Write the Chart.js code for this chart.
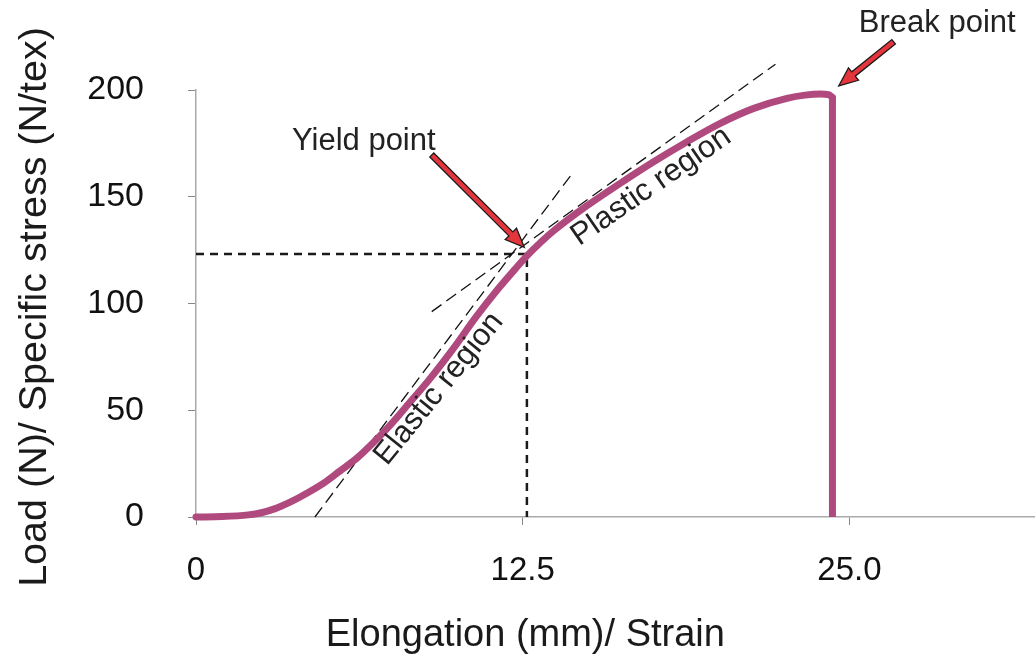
<!DOCTYPE html>
<html>
<head>
<meta charset="utf-8">
<script src="https://cdn.jsdelivr.net/npm/chart.js@4.4.1/dist/chart.umd.min.js"></script>
<style>
  html, body { margin: 0; padding: 0; background: #fff; }
  canvas { display: block; }
</style>
</head>
<body>
<canvas id="stressChart" width="1035" height="655"></canvas>
<script>
// Load / elongation curve of the specimen, up to the break
const strainX = [0, 1, 2, 2.5, 3, 3.6, 4, 4.9, 5.5, 6.15, 6.8, 7.5, 8.2, 8.9, 9.85, 10.7, 11.5, 12.2, 12.66,
                 13.2, 13.68, 14.96, 16.23, 17.51, 18.79, 20.06, 21.34, 22.61, 23.3, 23.89, 24.2, 24.35];
const loadY = [0, 0.2, 1.0, 2.0, 3.8, 7, 9.5, 16, 21.5, 27.5, 35, 44, 54, 64, 79, 93.5, 106, 116, 122.3,
               128.8, 134, 145.8, 156.3, 166.4, 175.8, 184.4, 191.4, 196.1, 197.6, 198.1, 197.8, 196.5];

// drop of the load at the break
const breakX = [24.35, 24.35];
const breakY = [196.5, 0];

// tangent lines of the two regions
const elasticX = [4.55, 14.4];
const elasticY = [0, 161];
const plasticX = [9.02, 22.17];
const plasticY = [96.2, 212.1];

// guide lines to the yield point
const yieldX = [0, 12.66, 12.66];
const yieldY = [123.2, 123.2, 0];

// axis ticks
const xTicks = [0, 12.5, 25];
const xTickLabels = ['0', '12.5', '25.0'];
const yTicks = [0, 50, 100, 150, 200];

// call-outs: text, position, arrow from tail to tip
const calloutText = ['Yield point', 'Break point'];
const calloutPos = [[6.42, 176.0], [28.36, 231.0]];
const arrowTail = [[9.02, 169.6], [26.69, 222.6]];
const arrowTip = [[12.56, 126.3], [24.59, 201.9]];

// region names written along the curve (angle in degrees)
const regionText = ['Elastic region', 'Plastic region'];
const regionPos = [[9.55, 57.5], [17.6, 151.5]];
const regionAngle = [-51, -34.5];

const FONT = "'Liberation Sans', Arial, Helvetica, sans-serif";
const CURVE = '#b04a7e';

function pts(xs, ys) {
    return xs.map((x, i) => ({ x: x, y: ys[i] }));
}

function drawArrow(ctx, x0, y0, x1, y1) {
    const ang = Math.atan2(y1 - y0, x1 - x0);
    const len = Math.hypot(x1 - x0, y1 - y0);
    const headLen = 19, headW = 8, shaftW = 2.8;
    ctx.save();
    ctx.translate(x0, y0);
    ctx.rotate(ang);
    ctx.beginPath();
    ctx.moveTo(0, -shaftW);
    ctx.lineTo(len - headLen, -shaftW);
    ctx.lineTo(len - headLen, -headW);
    ctx.lineTo(len, 0);
    ctx.lineTo(len - headLen, headW);
    ctx.lineTo(len - headLen, shaftW);
    ctx.lineTo(0, shaftW);
    ctx.closePath();
    ctx.fillStyle = '#e4343c';
    ctx.fill();
    ctx.lineWidth = 1.3;
    ctx.strokeStyle = '#1a1a1a';
    ctx.lineJoin = 'miter';
    ctx.stroke();
    ctx.restore();
}

const annotations = {
    id: 'annotations',
    afterDatasetsDraw(chart) {
        const ctx = chart.ctx;
        const xs = chart.scales.x, ys = chart.scales.y;

        ctx.save();
        ctx.fillStyle = '#222';
        ctx.font = '31px ' + FONT;
        ctx.textAlign = 'center';
        ctx.textBaseline = 'middle';
        calloutText.forEach((t, i) => {
            ctx.fillText(t, xs.getPixelForValue(calloutPos[i][0]), ys.getPixelForValue(calloutPos[i][1]));
        });

        ctx.textBaseline = 'alphabetic';
        regionText.forEach((t, i) => {
            ctx.save();
            ctx.translate(xs.getPixelForValue(regionPos[i][0]), ys.getPixelForValue(regionPos[i][1]));
            ctx.rotate(regionAngle[i] * Math.PI / 180);
            ctx.fillText(t, 0, 0);
            ctx.restore();
        });

        arrowTail.forEach((p, i) => {
            drawArrow(ctx,
                xs.getPixelForValue(p[0]), ys.getPixelForValue(p[1]),
                xs.getPixelForValue(arrowTip[i][0]), ys.getPixelForValue(arrowTip[i][1]));
        });

        // axis titles
        ctx.fillStyle = '#1a1a1a';
        ctx.font = '38px ' + FONT;
        ctx.fillText('Elongation (mm)/ Strain', xs.getPixelForValue(12.6), 646);
        ctx.font = '39.5px ' + FONT;
        ctx.save();
        ctx.translate(46, 307);
        ctx.rotate(-Math.PI / 2);
        ctx.fillText('Load (N)/ Specific stress (N/tex)', 0, 0);
        ctx.restore();
        ctx.restore();
    }
};

const ctx = document.getElementById('stressChart').getContext('2d');
new Chart(ctx, {
    type: 'scatter',
    data: {
        datasets: [
            {
                label: 'Load',
                data: pts(strainX, loadY),
                showLine: true,
                borderColor: CURVE,
                borderWidth: 7,
                borderJoinStyle: 'round',
                borderCapStyle: 'round',
                cubicInterpolationMode: 'monotone',
                pointRadius: 0,
                clip: false
            },
            {
                label: 'Break',
                data: pts(breakX, breakY),
                showLine: true,
                borderColor: CURVE,
                borderWidth: 7,
                borderCapStyle: 'butt',
                pointRadius: 0,
                clip: false
            },
            {
                label: 'Elastic tangent',
                data: pts(elasticX, elasticY),
                showLine: true,
                borderColor: '#111',
                borderWidth: 1.3,
                borderDash: [12, 6],
                pointRadius: 0,
                clip: false
            },
            {
                label: 'Plastic tangent',
                data: pts(plasticX, plasticY),
                showLine: true,
                borderColor: '#111',
                borderWidth: 1.3,
                borderDash: [12, 6],
                pointRadius: 0,
                clip: false
            },
            {
                label: 'Yield',
                data: pts(yieldX, yieldY),
                showLine: true,
                borderColor: '#1a1a1a',
                borderWidth: 2.5,
                borderDash: [8, 6],
                pointRadius: 0,
                clip: false
            }
        ]
    },
    options: {
        responsive: false,
        animation: false,
        devicePixelRatio: 1,
        layout: { padding: { top: 90, right: 0, bottom: 0, left: 0 } },
        plugins: {
            legend: { display: false },
            tooltip: { enabled: false }
        },
        scales: {
            x: {
                type: 'linear',
                min: 0,
                max: 32.1,
                afterFit(scale) { scale.height = 138; },
                afterBuildTicks(scale) { scale.ticks = xTicks.map(v => ({ value: v })); },
                border: { color: '#aaa', width: 1.5 },
                grid: { drawOnChartArea: false, drawTicks: true, tickLength: 8, color: '#888', lineWidth: 1 },
                ticks: {
                    padding: 26,
                    color: '#111',
                    font: { family: FONT, size: 33 },
                    maxRotation: 0,
                    callback: (v) => xTickLabels[xTicks.indexOf(v)]
                }
            },
            y: {
                type: 'linear',
                min: 0,
                max: 200,
                afterFit(scale) { scale.width = 196; },
                afterBuildTicks(scale) { scale.ticks = yTicks.map(v => ({ value: v })); },
                border: { color: '#aaa', width: 1.5 },
                grid: { drawOnChartArea: false, drawTicks: true, tickLength: 8, color: '#888', lineWidth: 1 },
                ticks: {
                    padding: 44,
                    color: '#111',
                    font: { family: FONT, size: 34 }
                }
            }
        }
    },
    plugins: [annotations]
});
</script>
</body>
</html>
